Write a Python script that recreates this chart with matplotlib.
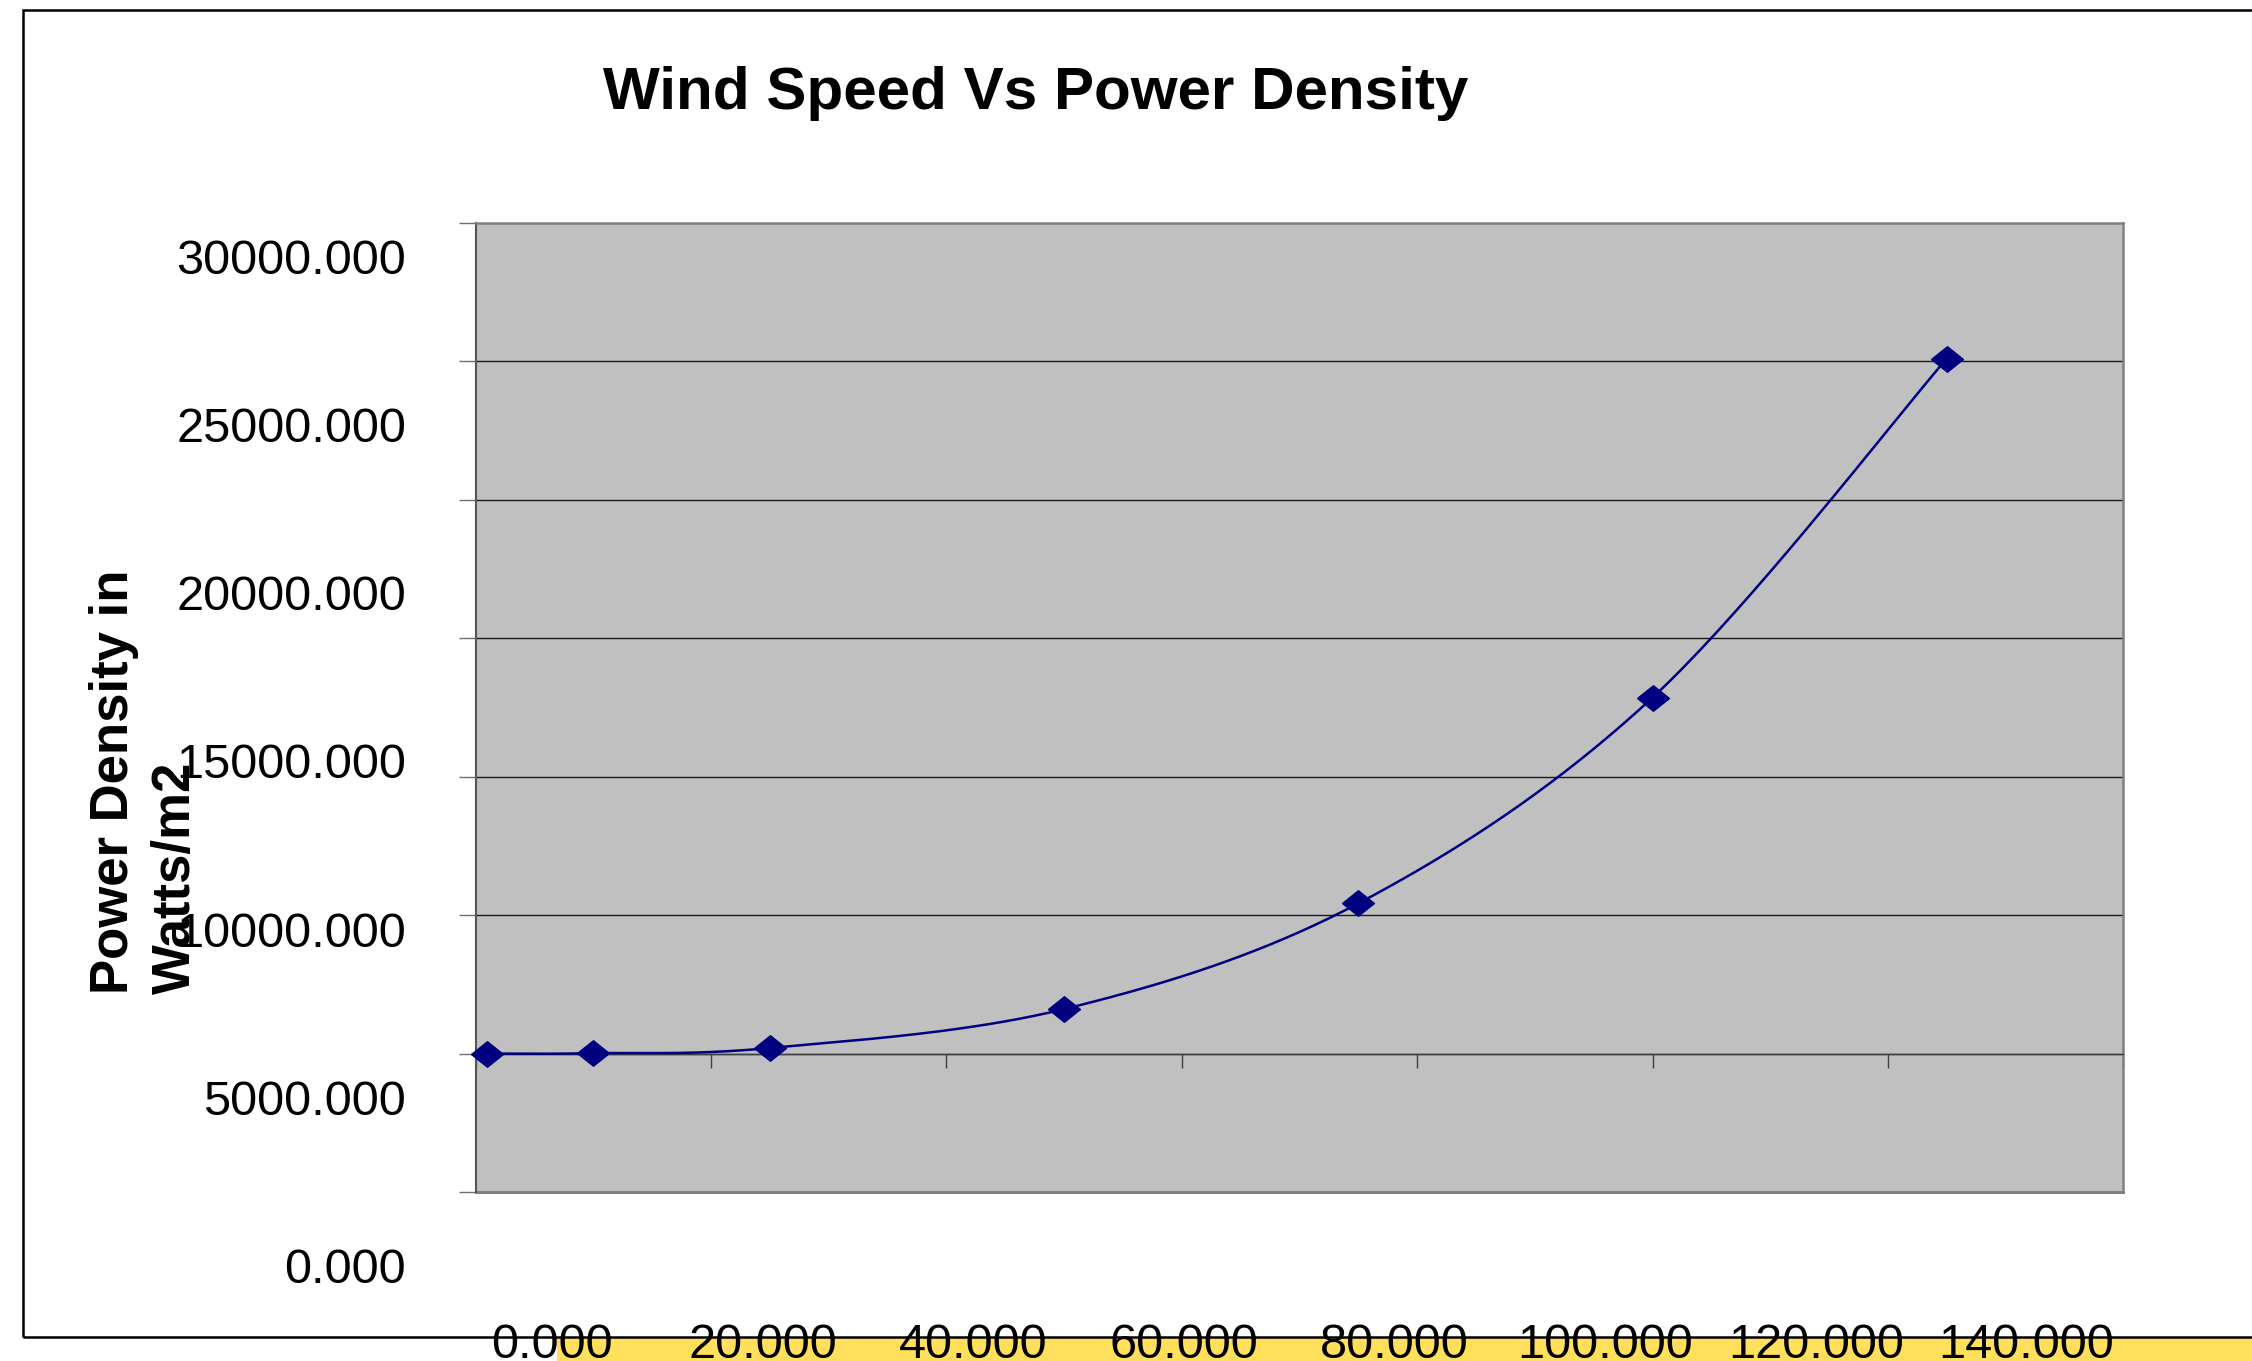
import numpy as np
import matplotlib
matplotlib.use("Agg")
import matplotlib.pyplot as plt
from matplotlib.patches import Rectangle

# ---- data ----
wind_speed = [1, 10, 25, 50, 75, 100, 125]
power_density = [0.6, 12.9, 201, 1607, 5425, 12860, 25104]
y_tick_values = [0, 5000, 10000, 15000, 20000, 25000, 30000]
y_tick_labels = ["0.000", "5000.000", "10000.000", "15000.000",
                 "20000.000", "25000.000", "30000.000"]
x_tick_values = [0, 20, 40, 60, 80, 100, 120, 140]
x_tick_labels = ["0.000", "20.000", "40.000", "60.000", "80.000",
                 "100.000", "120.000", "140.000"]
grid_values = [-5000, 0, 5000, 10000, 15000, 20000, 25000, 30000]
title_text = "Wind Speed Vs Power Density"
ylabel_lines = ["Power Density in", "Watts/m2"]

plt.rcParams["font.family"] = ["Liberation Sans", "DejaVu Sans"]

W, H = 2252, 1361
fig = plt.figure(figsize=(W / 100, H / 100), dpi=100)
fig.patch.set_facecolor("white")


def fx(px):
    return px / W


def fy(py):
    return 1 - py / H


def smooth(xp, yp, n=40):
    P = np.column_stack([xp, yp]).astype(float)
    out = []
    for i in range(len(P) - 1):
        p0 = P[i - 1] if i > 0 else P[i]
        p1, p2 = P[i], P[i + 1]
        p3 = P[i + 2] if i + 2 < len(P) else P[i + 1]
        m1 = (p2 - p0) / 2
        m2 = (p3 - p1) / 2
        t = np.linspace(0, 1, n, endpoint=(i == len(P) - 2))[:, None]
        h00 = 2 * t**3 - 3 * t**2 + 1
        h10 = t**3 - 2 * t**2 + t
        h01 = -2 * t**3 + 3 * t**2
        h11 = t**3 - t**2
        out.append(h00 * p1 + h10 * m1 + h01 * p2 + h11 * m2)
    out = np.vstack(out)
    return out[:, 0], out[:, 1]


# ---- main plot area ----
L, R, T, B = 475.7, 2123.3, 223, 1192
ax = fig.add_axes([fx(L), fy(B), fx(R - L), (B - T) / H])
ax.set_facecolor("#C0C0C0")
ax.set_xlim(0, 140)
ax.set_ylim(-5000, 30000)

for v in grid_values[1:-1]:
    ax.axhline(v, color="#1a1a1a", lw=1.0, zorder=1)
ax.axhline(-5000, color="#808080", lw=2.2, zorder=2, clip_on=False)

ax.spines["left"].set_color("#555555")
ax.spines["left"].set_linewidth(1.5)
for s in ("right", "top"):
    ax.spines[s].set_color("#808080")
    ax.spines[s].set_linewidth(1.8)
ax.spines["bottom"].set_position(("data", 0))
ax.spines["bottom"].set_color("#404040")
ax.spines["bottom"].set_linewidth(1.0)

ax.set_yticks(grid_values)
ax.set_yticklabels([])
ax.tick_params(axis="y", direction="out", length=12, width=1, color="#707070")
ax.set_xticks(x_tick_values)
ax.set_xticklabels([])
ax.tick_params(axis="x", direction="out", length=10, width=1, color="#404040")

sx, sy = smooth(wind_speed, power_density)
ax.plot(sx, sy, color="#000080", lw=1.8, zorder=3, clip_on=False)
diamond = [(-1, 0), (0, 0.8), (1, 0), (0, -0.8), (-1, 0)]
ax.plot(wind_speed, power_density, linestyle="none", marker=diamond,
        markersize=23, color="#000080", zorder=4, clip_on=False)

# ---- y tick labels (offset, as in the reference) ----
ay = fig.add_axes([fx(406), fy(1283), 0.0005, (1283 - 274) / H])
ay.set_ylim(0, 30000)
ay.set_yticks(y_tick_values)
ay.set_yticklabels(y_tick_labels, fontsize=35)
for lbl in ay.get_yticklabels():
    lbl.set_va("baseline")
ay.tick_params(axis="y", length=0, pad=0)
ay.set_xticks([])
for s in ay.spines.values():
    s.set_visible(False)
ay.patch.set_visible(False)

# ---- x tick labels ----
axl = fig.add_axes([fx(552), fy(1358), fx(2026.5 - 552), 0.0005])
axl.set_xlim(0, 140)
axl.set_xticks(x_tick_values)
axl.set_xticklabels(x_tick_labels, fontsize=35)
for lbl in axl.get_xticklabels():
    lbl.set_va("baseline")
axl.tick_params(axis="x", length=0, pad=0)
axl.set_yticks([])
for s in axl.spines.values():
    s.set_visible(False)
axl.patch.set_visible(False)
axl.set_zorder(5)

# ---- title and axis title ----
fig.text(fx(1036), fy(109), title_text, ha="center", va="baseline",
         fontsize=43.3, fontweight="bold")
fig.text(fx(128.3), fy(994), ylabel_lines[0], rotation=90,
         rotation_mode="anchor", ha="left", va="baseline",
         fontsize=38, fontweight="bold")
fig.text(fx(190), fy(994), ylabel_lines[1], rotation=90,
         rotation_mode="anchor", ha="left", va="baseline",
         fontsize=38, fontweight="bold")

# ---- yellow band and chart border ----
fig.add_artist(Rectangle((fx(557), 0), 1 - fx(557) + 0.01, (H - 1337) / H,
                         transform=fig.transFigure, facecolor="#FFDF5C",
                         edgecolor="none", zorder=1))
fig.add_artist(Rectangle((fx(23), fy(1337)), 1.05, (1337 - 10) / H,
                         transform=fig.transFigure, fill=False,
                         edgecolor="black", lw=1.8, zorder=2, clip_on=False))

fig.savefig("out.png", dpi=100)
